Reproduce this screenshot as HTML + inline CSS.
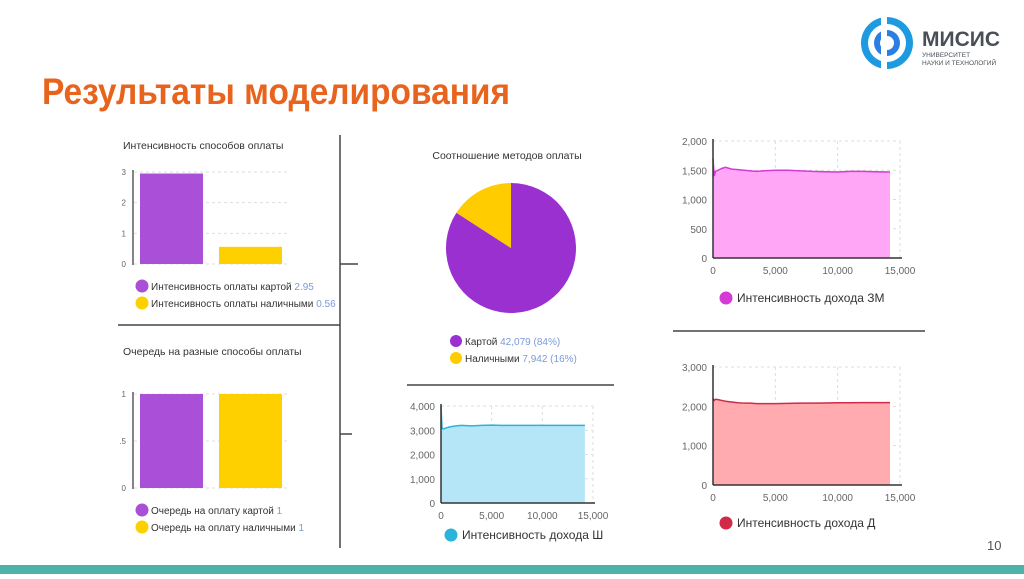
<!DOCTYPE html>
<html><head><meta charset="utf-8">
<style>
html,body{margin:0;padding:0;background:#fff;}
body{width:1024px;height:574px;overflow:hidden;position:relative;font-family:"Liberation Sans",sans-serif;}
svg text{font-family:"Liberation Sans","Noto Sans CJK SC",sans-serif;}
</style></head>
<body>
<svg id="slide" width="1024" height="574" viewBox="0 0 1024 574" xmlns="http://www.w3.org/2000/svg">
  <text x="42" y="104" font-size="37" font-weight="bold" fill="#e8641e" textLength="468" lengthAdjust="spacingAndGlyphs">Результаты моделирования</text>
  <g>
    <circle cx="887" cy="43" r="26" fill="#1e9be0"/>
    <circle cx="887" cy="43" r="19" fill="#fff"/>
    <circle cx="887" cy="43" r="13" fill="#2a7fe0"/>
    <circle cx="887" cy="43" r="7" fill="#fff"/>
    <rect x="881" y="14" width="6" height="58" fill="#fff"/>
    <text x="922" y="46" font-size="21" font-weight="bold" fill="#4a4f57">МИСИС</text>
    <text x="922" y="57" font-size="6.5" fill="#4a4f57">УНИВЕРСИТЕТ</text>
    <text x="922" y="65" font-size="6.5" fill="#4a4f57">НАУКИ И ТЕХНОЛОГИЙ</text>
  </g>
  <g stroke="#444" stroke-width="1.5">
    <line x1="118" y1="325" x2="340" y2="325"/>
    <line x1="340" y1="135" x2="340" y2="548"/>
    <line x1="340" y1="264" x2="358" y2="264"/>
    <line x1="340" y1="434" x2="352" y2="434"/>
    <line x1="407" y1="385" x2="614" y2="385"/>
    <line x1="673" y1="331" x2="925" y2="331"/>
  </g>
  <g id="charts"></g>
  <text x="987" y="550" font-size="13" fill="#555">10</text>
  <rect x="0" y="565" width="1024" height="9" fill="#4db3a8"/>
</svg>
<script>
// ---- data ----
const intensityCats = ['Интенсивность оплаты картой','Интенсивность оплаты наличными'];
const intensityVals = [2.95, 0.56];
const intensityTicks = [0,1,2,3];
const queueCats = ['Очередь на оплату картой','Очередь на оплату наличными'];
const queueVals = [1, 1];
const queueTicks = [0,0.5,1];
const queueTickLabels = ['0','.5','1'];
const pieCats = ['Картой','Наличными'];
const pieVals = [42079, 7942];
const timeX = [0,100,200,400,700,1000,1500,2000,2500,3000,3500,4000,5000,6000,7000,8000,9000,10000,11000,12000,13000,14200];
const seriesSh = [4000,3100,3050,3080,3120,3150,3180,3200,3190,3180,3190,3200,3210,3200,3200,3200,3200,3200,3200,3200,3200,3200];
const seriesZM = [1700,1400,1480,1500,1530,1550,1520,1510,1500,1490,1480,1490,1500,1500,1490,1480,1475,1470,1480,1480,1475,1470];
const seriesD = [2200,2150,2180,2170,2150,2130,2110,2090,2080,2080,2070,2070,2070,2075,2080,2080,2085,2090,2090,2095,2095,2095];
const xTicks = [0,5000,10000,15000];
const shTicks = [0,1000,2000,3000,4000];
const zmTicks = [0,500,1000,1500,2000];
const dTicks = [0,1000,2000,3000];

const NS='http://www.w3.org/2000/svg';
const root=document.getElementById('charts');
function el(tag,attrs,parent,text){const e=document.createElementNS(NS,tag);for(const k in attrs)e.setAttribute(k,attrs[k]);if(text!==undefined)e.textContent=text;(parent||root).appendChild(e);return e;}
function fmt(v){return v.toLocaleString('en-US');}

function barChart(name,title,titleY,cats,vals,ticks,tickLabels,yTop,yBot,maxV,legY,showVal){
  const g=el('g',{});
  
  
  const t=el('text',{x:123,y:titleY,'font-size':10.5,fill:'#333'},g,title);
  
  
  const y=v=>yBot-(v/maxV)*(yBot-yTop);
  ticks.forEach((tv,i)=>{
    el('line',{x1:134,x2:290,y1:y(tv),y2:y(tv),stroke:'#ddd','stroke-dasharray':'3,3'},g);
    const l=el('text',{x:126,y:y(tv)+3,'font-size':8,fill:'#666','text-anchor':'end'},g,tickLabels[i]);
    
    
  });
  el('line',{x1:133,x2:133,y1:yTop-2,y2:yBot+1,stroke:'#333','stroke-width':1.2},g);
  const colors=['#aa4fd8','#ffd000'];
  vals.forEach((v,i)=>{
    const r=el('rect',{x:140+i*79,y:y(v),width:63,height:yBot-y(v),fill:colors[i]},g);
    
    
    const ly=legY+i*17;
    el('circle',{cx:142,cy:ly,r:6.5,fill:colors[i]},g);
    const lt=el('text',{x:151,y:ly+4,'font-size':10,fill:'#333'},g,cats[i]+' ');
    el('tspan',{fill:'#7a9ad8'},lt,showVal(v));
    
    
  });
}
barChart('intensity-bar-chart','Интенсивность способов оплаты',149,intensityCats,intensityVals,intensityTicks,intensityTicks.map(String),172,264,3,286,v=>String(v));
barChart('queue-bar-chart','Очередь на разные способы оплаты',355,queueCats,queueVals,queueTicks,queueTickLabels,394,488,1,510,v=>String(v));

// pie
(function(){
  const g=el('g',{});
  
  
  const t=el('text',{x:507,y:159,'font-size':10.5,fill:'#333','text-anchor':'middle'},g,'Соотношение методов оплаты');
  
  
  const cx=511,cy=248,r=65;
  const total=pieVals.reduce((a,b)=>a+b,0);
  const colors=['#9b30d0','#ffcc00'];
  let a0=0;
  const angs=[];
  pieVals.forEach(v=>{angs.push([a0,a0+v/total*2*Math.PI]);a0+=v/total*2*Math.PI;});
  pieVals.forEach((v,i)=>{
    const [s,e]=angs[i];
    const p=a=>[cx+r*Math.sin(a),cy-r*Math.cos(a)];
    const [x1,y1]=p(s),[x2,y2]=p(e);
    const large=(e-s)>Math.PI?1:0;
    const path=el('path',{d:`M${cx},${cy}L${x1},${y1}A${r},${r} 0 ${large} 1 ${x2},${y2}Z`,fill:colors[i]},g);
    
    
    const ly=341+i*17;
    el('circle',{cx:456,cy:ly,r:6,fill:colors[i]},g);
    const lt=el('text',{x:465,y:ly+4,'font-size':10,fill:'#333'},g,pieCats[i]+' ');
    el('tspan',{fill:'#7a9ad8'},lt,fmt(v)+' ('+Math.round(v/total*100)+'%)');
    
    
  });
})();

function areaChart(name,x0,x15,yTop,yBot,maxV,ticks,xs,ys,fill,stroke,legX,legY,legText){
  const g=el('g',{});
  
  
  const X=v=>x0+v/15000*(x15-x0);
  const Y=v=>yBot-v/maxV*(yBot-yTop);
  ticks.forEach(tv=>{
    el('line',{x1:x0,x2:x15,y1:Y(tv),y2:Y(tv),stroke:'#ddd','stroke-dasharray':'3,3'},g);
    const l=el('text',{x:x0-6,y:Y(tv)+4,'font-size':10,fill:'#666','text-anchor':'end'},g,fmt(tv));
    
    
  });
  xTicks.forEach(tv=>{
    el('line',{x1:X(tv),x2:X(tv),y1:yTop,y2:yBot,stroke:'#ddd','stroke-dasharray':'3,3'},g);
    const l=el('text',{x:X(tv),y:yBot+16,'font-size':10,fill:'#666','text-anchor':'middle'},g,fmt(tv));
    
    
  });
  let d='M'+X(xs[0])+','+Y(0);
  xs.forEach((x,i)=>{d+='L'+X(x)+','+Y(ys[i]);});
  d+='L'+X(xs[xs.length-1])+','+Y(0)+'Z';
  const a=el('path',{d:d,fill:fill},g);
  
  
  const ln=el('polyline',{points:xs.map((x,i)=>X(x)+','+Y(ys[i])).join(' '),fill:'none',stroke:stroke,'stroke-width':1.5},g);
  
  
  el('line',{x1:x0,x2:x0,y1:yTop-2,y2:yBot,stroke:'#333','stroke-width':1.5},g);
  el('line',{x1:x0,x2:x15+2,y1:yBot,y2:yBot,stroke:'#333','stroke-width':1.5},g);
  el('circle',{cx:legX,cy:legY,r:6.5,fill:stroke},g);
  const lt=el('text',{x:legX+11,y:legY+4,'font-size':12,fill:'#333'},g,legText);
  
  
}
areaChart('income-sh-chart',441,593,406,503,4000,shTicks,timeX,seriesSh,'#b5e6f8','#2ab4dc',451,535,'Интенсивность дохода Ш');
areaChart('income-zm-chart',713,900,141,258,2000,zmTicks,timeX,seriesZM,'#ffa6f6','#d63ad6',726,298,'Интенсивность дохода ЗМ');
areaChart('income-d-chart',713,900,367,485,3000,dTicks,timeX,seriesD,'#ffabb0','#d02a48',726,523,'Интенсивность дохода Д');
</script>
</body></html>
